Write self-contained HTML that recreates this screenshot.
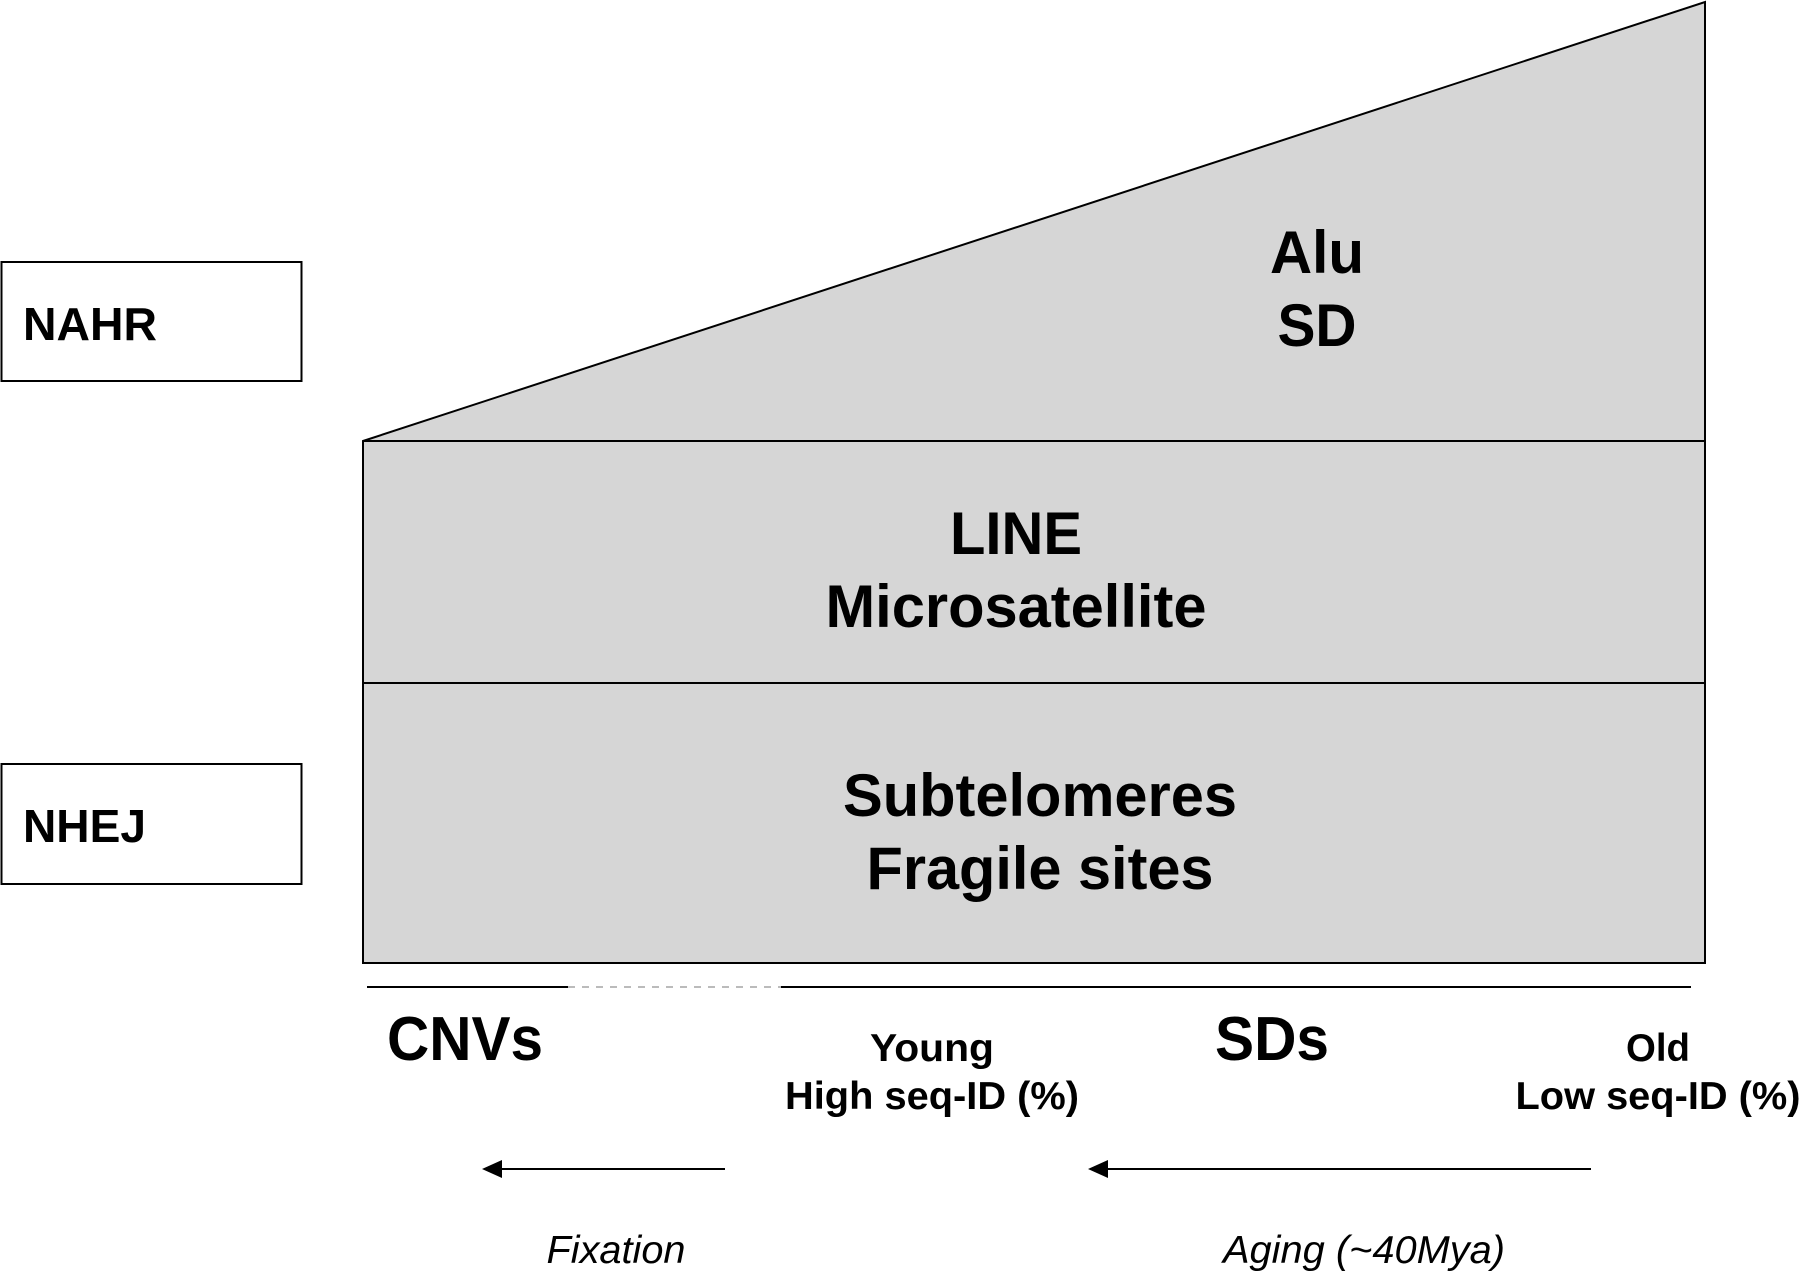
<!DOCTYPE html>
<html><head><style>html,body{margin:0;padding:0;background:#fff}</style></head>
<body>
<svg width="1800" height="1273" viewBox="0 0 1800 1273" xmlns="http://www.w3.org/2000/svg" font-family="Liberation Sans, Arial, sans-serif">
<rect x="1.5" y="262" width="300" height="119" fill="#fff" stroke="#000" stroke-width="2"/>
<rect x="1.5" y="764" width="300" height="120" fill="#fff" stroke="#000" stroke-width="2"/>
<text x="23" y="340" font-size="46" font-weight="bold" textLength="134" lengthAdjust="spacingAndGlyphs">NAHR</text>
<text x="23" y="842" font-size="46" font-weight="bold" textLength="123" lengthAdjust="spacingAndGlyphs">NHEJ</text>
<polygon points="363,441 1705,2 1705,963 363,963" fill="#d6d6d6" stroke="#000" stroke-width="2"/>
<line x1="363" y1="441" x2="1705" y2="441" stroke="#000" stroke-width="2"/>
<line x1="363" y1="683" x2="1705" y2="683" stroke="#000" stroke-width="2"/>
<g font-weight="bold" font-size="60" text-anchor="middle" lengthAdjust="spacingAndGlyphs">
<text x="1317" y="273" textLength="94" lengthAdjust="spacingAndGlyphs">Alu</text>
<text x="1317" y="346" textLength="79" lengthAdjust="spacingAndGlyphs">SD</text>
<text x="1016" y="554" textLength="132" lengthAdjust="spacingAndGlyphs">LINE</text>
<text x="1016" y="627" textLength="381" lengthAdjust="spacingAndGlyphs">Microsatellite</text>
<text x="1040" y="816" textLength="394" lengthAdjust="spacingAndGlyphs">Subtelomeres</text>
<text x="1040" y="889" textLength="347" lengthAdjust="spacingAndGlyphs">Fragile sites</text>
</g>
<line x1="367" y1="987" x2="568" y2="987" stroke="#000" stroke-width="2"/>
<line x1="568" y1="987" x2="781" y2="987" stroke="#bbb" stroke-width="2" stroke-dasharray="7,7"/>
<line x1="781" y1="987" x2="1691" y2="987" stroke="#000" stroke-width="2"/>
<g font-weight="bold">
<text x="387" y="1060" font-size="62" textLength="156" lengthAdjust="spacingAndGlyphs">CNVs</text>
<text x="1215" y="1060" font-size="62" textLength="114" lengthAdjust="spacingAndGlyphs">SDs</text>
<g font-size="39" text-anchor="middle">
<text x="932" y="1061" textLength="124" lengthAdjust="spacingAndGlyphs">Young</text>
<text x="932" y="1109" textLength="294" lengthAdjust="spacingAndGlyphs">High seq-ID (%)</text>
<text x="1658" y="1061" textLength="64" lengthAdjust="spacingAndGlyphs">Old</text>
<text x="1658" y="1109" textLength="285" lengthAdjust="spacingAndGlyphs">Low seq-ID (%)</text>
</g>
</g>
<line x1="500" y1="1169" x2="725" y2="1169" stroke="#000" stroke-width="2"/>
<polygon points="482,1169 502,1160 502,1178" fill="#000"/>
<line x1="1106" y1="1169" x2="1591" y2="1169" stroke="#000" stroke-width="2"/>
<polygon points="1088,1169 1108,1160 1108,1178" fill="#000"/>
<g font-style="italic" font-size="39" text-anchor="middle">
<text x="616" y="1263" textLength="139" lengthAdjust="spacingAndGlyphs">Fixation</text>
<text x="1364" y="1263" textLength="282" lengthAdjust="spacingAndGlyphs">Aging (~40Mya)</text>
</g>
</svg>
</body></html>
